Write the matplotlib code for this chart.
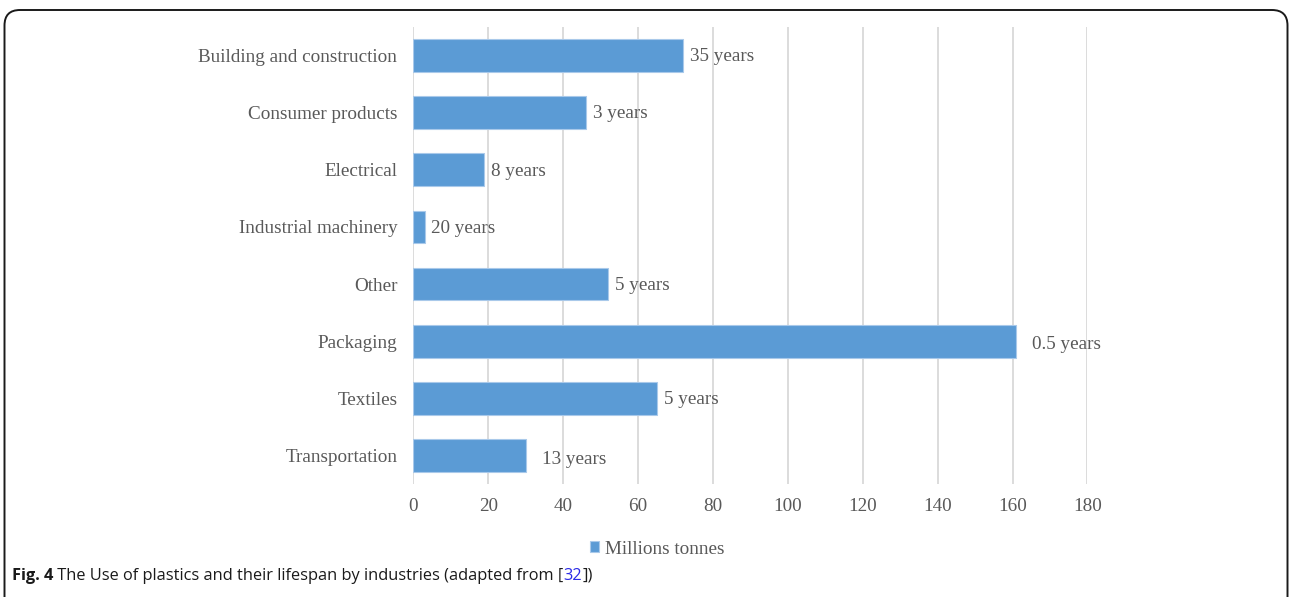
import matplotlib
matplotlib.use("Agg")
import matplotlib.pyplot as plt
from matplotlib.patches import FancyBboxPatch

categories = ["Building and construction", "Consumer products", "Electrical",
              "Industrial machinery", "Other", "Packaging", "Textiles", "Transportation"]
values = [72, 46, 19, 3, 52, 161, 65, 30]
lifespans = ["35 years", "3 years", "8 years", "20 years", "5 years",
             "0.5 years", "5 years", "13 years"]
xticks = [0, 20, 40, 60, 80, 100, 120, 140, 160, 180]
series_name = "Millions tonnes"

W, H = 1290, 597
fig = plt.figure(figsize=(W / 100, H / 100), dpi=100)
fig.patch.set_facecolor("white")

serif = ["Liberation Serif", "DejaVu Serif"]
gray = "#595959"
bar_color = "#5b9bd5"
fs = 13.8

# plot area in pixels
x0, x1 = 413.3, 1087.4
yt, yb = 26.7, 484.3
ax = fig.add_axes([x0 / W, 1 - yb / H, (x1 - x0) / W, (yb - yt) / H])

ypos = list(range(len(categories)))
bars = ax.barh(ypos, values, height=0.57, color=bar_color, edgecolor="#a9c9ea",
               linewidth=0.8, zorder=3, label=series_name)
ax.set_ylim(len(categories) - 0.5, -0.5)
ax.set_xlim(0, 180)
ax.set_xticks(xticks)
ax.set_xticklabels([str(t) for t in xticks], fontfamily=serif, fontsize=fs, color=gray)
ax.set_yticks(ypos)
ax.set_yticklabels(categories, fontfamily=serif, fontsize=fs, color=gray)
ax.tick_params(axis="both", length=0)
ax.tick_params(axis="y", pad=11.5)
ax.tick_params(axis="x", pad=10)
ax.grid(axis="x", color="#d9d9d9", linewidth=1.3, zorder=0)
for s in ax.spines.values():
    s.set_visible(False)

# label nudges (pixels) for the two labels Excel placed slightly further out
nudge = {5: (9, -2), 7: (9, -2)}
for i, (b, lab) in enumerate(zip(bars, lifespans)):
    dx, dy = nudge.get(i, (0, 0))
    ax.annotate(lab, xy=(b.get_width(), b.get_y() + b.get_height() / 2),
                xytext=((5 + dx * 0.72), (-1 + dy * 0.72)), textcoords="offset points",
                va="center", ha="left",
                fontfamily=serif, fontsize=fs, color=gray, zorder=4)

# legend
fig.legend(handles=[bars], labels=[series_name], loc="center",
           bbox_to_anchor=(657 / W, 1 - 549 / H), frameon=False,
           prop={"family": serif, "size": fs}, labelcolor=gray,
           handlelength=0.5, handleheight=0.5, handletextpad=0.3)

# caption
cap_font = ["Open Sans", "DejaVu Sans"]
cfs = 11.8
cy = 1 - 576 / H
t1 = fig.text(12 / W, cy, "Fig. 4", fontfamily=cap_font, fontweight="bold",
              fontsize=cfs, color="#1a1a1a", va="center", ha="left")
t2 = fig.add_artist(plt.Annotation(" The Use of plastics and their lifespan by industries (adapted from [",
                                   xy=(1, 0.5), xycoords=t1, va="center", ha="left",
                                   fontfamily=cap_font, fontsize=cfs, color="#1a1a1a"))
t3 = fig.add_artist(plt.Annotation("32", xy=(1, 0.5), xycoords=t2, va="center", ha="left",
                                   fontfamily=cap_font, fontsize=cfs, color="#2a2ae6"))
t4 = fig.add_artist(plt.Annotation("])", xy=(1, 0.5), xycoords=t3, va="center", ha="left",
                                   fontfamily=cap_font, fontsize=cfs, color="#1a1a1a"))

# rounded border
border = FancyBboxPatch((4.5 / W, -40 / H), (1283 / W), (H - 10 + 40) / H,
                        boxstyle="round,pad=0,rounding_size=0.012",
                        transform=fig.transFigure, fill=False,
                        edgecolor="#1a1a1a", linewidth=1.4, mutation_aspect=W / H)
fig.add_artist(border)

fig.savefig("out.png", dpi=100, facecolor="white")
